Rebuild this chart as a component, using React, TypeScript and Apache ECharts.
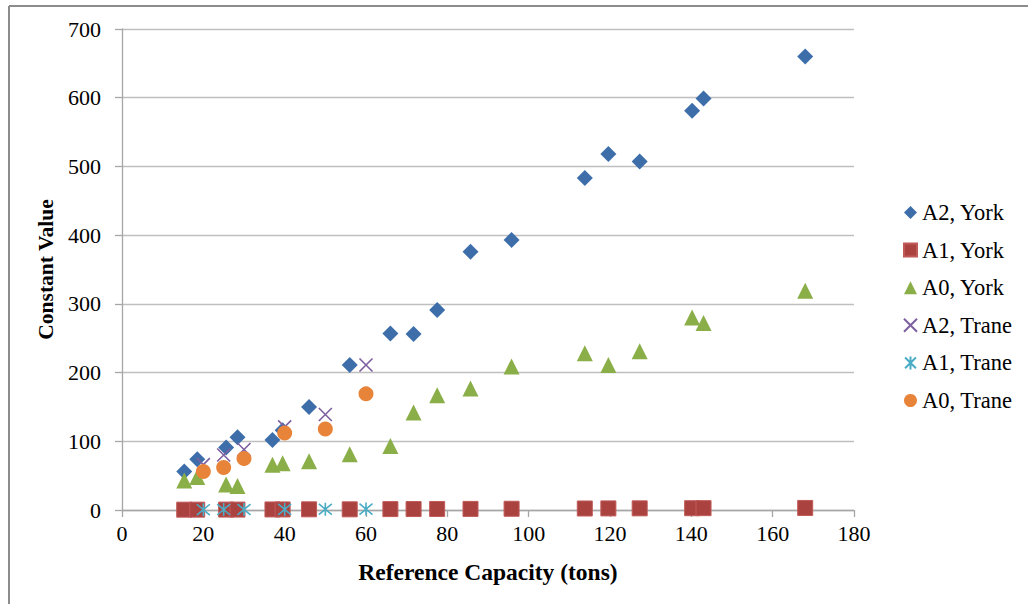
import React, { useEffect, useRef } from "react";
import * as echarts from "echarts";

// York chillers: reference capacity (tons)
const yorkCapacity = [15.3, 18.5, 25.6, 28.4, 37, 39.5, 46, 56, 66, 71.7, 77.5, 85.7, 95.8, 113.8, 119.6, 127.3, 140.2, 143, 168];
const a2York = [56, 74, 91, 106, 102, 116, 150, 211, 257, 256, 291, 376, 393, 483, 518, 507, 581, 599, 660];
const a1York = [0.5, 0.5, 0.6, 0.6, 0.8, 0.8, 1, 1, 1.3, 1.4, 1.5, 1.6, 1.8, 2.2, 2.3, 2.4, 2.6, 2.7, 3];
const a0York = [43, 48, 37, 35, 66, 68, 71, 81, 93, 142, 167, 177, 209, 228, 211, 231, 280, 272, 319];

// Trane chillers
const traneCapacity = [20, 25, 30, 40, 50, 60];
const a2Trane = [66, 80, 88, 121, 139, 211];
const a1Trane = [0.5, 0.6, 0.7, 0.9, 1.1, 1.3];
const a0Trane = [56, 62, 75, 112, 118, 169];

const seriesNames = ["A2, York", "A1, York", "A0, York", "A2, Trane", "A1, Trane", "A0, Trane"];
const xTicks = { min: 0, max: 180, interval: 20 };
const yTicks = { min: 0, max: 700, interval: 100 };

const FONT = "'Liberation Serif', 'Times New Roman', serif";

const pair = (xs: number[], ys: number[]) => xs.map((x, i) => [x, ys[i]]);

const CROSS = "path://M0,0L10,10M10,0L0,10";
const STAR = "path://M0,0L10,10M10,0L0,10M5,-1L5,11";

export default function App() {
  const ref = useRef<HTMLDivElement>(null);
  useEffect(() => {
    if (!ref.current) return;
    const chart = echarts.init(ref.current, undefined, { renderer: "svg" });
    chart.setOption({
      animation: false,
      backgroundColor: "#ffffff",
      textStyle: { fontFamily: FONT },
      grid: { left: 122, top: 29, width: 732, height: 481 },
      xAxis: {
        type: "value",
        min: xTicks.min,
        max: xTicks.max,
        interval: xTicks.interval,
        name: "Reference Capacity (tons)",
        nameLocation: "middle",
        nameGap: 50,
        nameTextStyle: { fontFamily: FONT, fontWeight: "bold", fontSize: 23.5, color: "#000" },
        axisLine: { show: true, lineStyle: { color: "#a6a6a6", width: 1.3 } },
        axisTick: { show: true, length: 7, lineStyle: { color: "#a6a6a6", width: 1.3 } },
        axisLabel: { fontFamily: FONT, fontSize: 22, color: "#000", margin: 12 },
        splitLine: { show: false },
      },
      yAxis: {
        type: "value",
        min: yTicks.min,
        max: yTicks.max,
        interval: yTicks.interval,
        name: "Constant Value",
        nameLocation: "middle",
        nameGap: 63,
        nameTextStyle: { fontFamily: FONT, fontWeight: "bold", fontSize: 21.5, color: "#000" },
        axisLine: { show: true, lineStyle: { color: "#a6a6a6", width: 1.3 } },
        axisTick: { show: true, length: 7, lineStyle: { color: "#a6a6a6", width: 1.3 } },
        axisLabel: { fontFamily: FONT, fontSize: 22, color: "#000", margin: 21 },
        splitLine: { show: true, lineStyle: { color: "#bfbfbf", width: 1.3 } },
      },
      legend: {
        orient: "vertical",
        left: 898,
        top: 196,
        itemWidth: 13,
        itemHeight: 13,
        itemGap: 14.6,
        textStyle: { fontFamily: FONT, fontSize: 22.5, color: "#000", lineHeight: 22 },
        data: seriesNames,
      },
      graphic: [
        { type: "line", shape: { x1: 9, y1: 6, x2: 1028, y2: 6 }, style: { stroke: "#8c8c8c", lineWidth: 2 } },
        { type: "line", shape: { x1: 9, y1: 6, x2: 9, y2: 604 }, style: { stroke: "#8c8c8c", lineWidth: 2 } },
      ],
      series: [
        {
          name: seriesNames[0],
          type: "scatter",
          data: pair(yorkCapacity, a2York),
          symbol: "diamond",
          symbolSize: 16,
          itemStyle: { color: "#3D6EAA", opacity: 1 },
        },
        {
          name: seriesNames[1],
          type: "scatter",
          data: pair(yorkCapacity, a1York),
          symbol: "rect",
          symbolSize: 15,
          itemStyle: { color: "#AA4240", borderColor: "#C05A58", borderWidth: 1, opacity: 1 },
        },
        {
          name: seriesNames[2],
          type: "scatter",
          data: pair(yorkCapacity, a0York),
          symbol: "triangle",
          symbolSize: 16,
          itemStyle: { color: "#8AAE48", opacity: 1 },
        },
        {
          name: seriesNames[3],
          type: "scatter",
          data: pair(traneCapacity, a2Trane),
          symbol: CROSS,
          symbolSize: 13,
          itemStyle: { color: "transparent", borderColor: "#7D5FA0", borderWidth: 1.6, opacity: 1 },
        },
        {
          name: seriesNames[4],
          type: "scatter",
          data: pair(traneCapacity, a1Trane),
          symbol: STAR,
          symbolSize: 13,
          itemStyle: { color: "transparent", borderColor: "#4AACC5", borderWidth: 1.6, opacity: 1 },
        },
        {
          name: seriesNames[5],
          type: "scatter",
          data: pair(traneCapacity, a0Trane),
          symbol: "circle",
          symbolSize: 15,
          itemStyle: { color: "#E8843A", opacity: 1 },
        },
      ],
    });
    return () => chart.dispose();
  }, []);
  return (
    <div
      ref={ref}
      style={{ position: "absolute", left: 0, top: 0, width: 1028, height: 604 }}
    />
  );
}
